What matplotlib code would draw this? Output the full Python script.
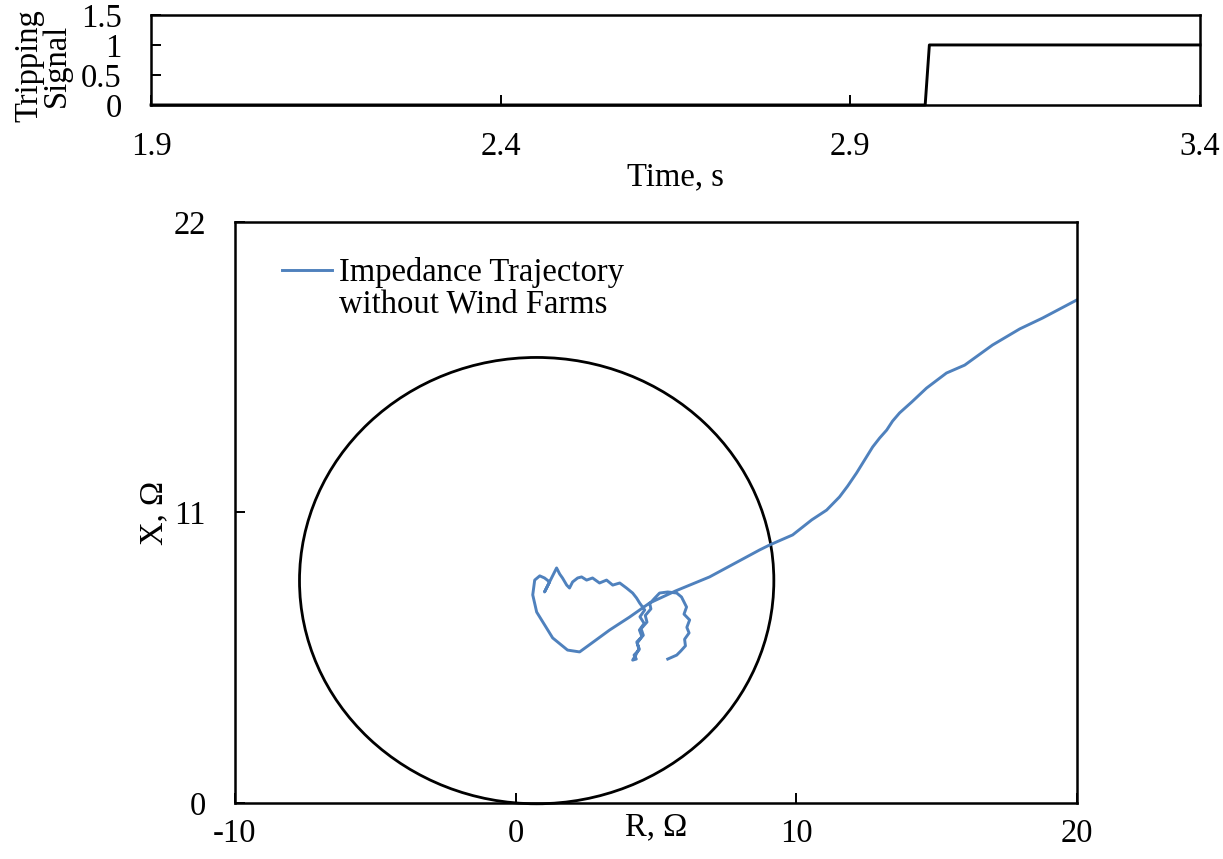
import matplotlib
matplotlib.use("Agg")
import matplotlib.pyplot as plt
from matplotlib.patches import Circle

plt.rcParams['font.family'] = ['Liberation Serif', 'DejaVu Serif']
plt.rcParams['font.size'] = 23.5

# Relay tripping signal
trip_time = [1.9, 3.007, 3.013, 3.4]
trip_signal = [0, 0, 1, 1]

# Mho characteristic (passes through origin)
mho_center_r = 0.75
mho_center_x = 8.42
mho_radius = 8.45

# Apparent impedance seen by the relay, ohms
traj_r = [20.0, 18.77, 17.96, 16.99, 16.0, 15.35, 14.64, 14.11, 13.68, 13.43,
          13.22, 12.97, 12.72, 12.15, 11.83, 11.54, 11.08, 10.55, 9.87, 9.05,
          8.69, 6.91, 5.70, 4.77, 4.06, 3.35, 2.81, 2.28, 1.85, 1.32,
          0.75, 0.61, 0.68, 0.86, 1.03, 1.21, 1.03, 1.28, 1.46, 1.57,
          1.67, 1.82, 1.92, 2.03, 2.21, 2.35, 2.53, 2.74, 2.99, 3.24,
          3.46, 3.71, 3.95, 4.17, 4.31, 4.42, 4.60, 4.43, 4.58, 4.41,
          4.50, 4.33, 4.40, 4.22, 4.30, 4.17, 4.28, 4.40, 4.32, 4.55,
          4.47, 4.68, 4.62, 4.82, 4.78, 4.95, 5.13, 5.42, 5.74, 5.91,
          6.09, 6.00, 6.20, 6.10, 6.18, 6.02, 6.05, 5.88, 5.74, 5.42]
traj_x = [19.05, 18.36, 17.95, 17.34, 16.58, 16.28, 15.71, 15.18, 14.77, 14.46,
          14.12, 13.82, 13.48, 12.50, 12.00, 11.59, 11.09, 10.72, 10.15, 9.77,
          9.58, 8.56, 8.03, 7.57, 7.04, 6.55, 6.13, 5.72, 5.79, 6.25,
          7.23, 7.88, 8.44, 8.60, 8.52, 8.37, 7.99, 8.52, 8.90, 8.67,
          8.52, 8.25, 8.14, 8.37, 8.52, 8.56, 8.44, 8.52, 8.33, 8.44,
          8.25, 8.33, 8.14, 7.95, 7.76, 7.57, 7.31, 7.05, 6.80, 6.55,
          6.30, 6.05, 5.80, 5.60, 5.45, 5.41, 5.60, 5.85, 6.10, 6.35,
          6.60, 6.85, 7.10, 7.35, 7.55, 7.75, 7.95, 7.99, 7.95, 7.80,
          7.42, 7.15, 6.93, 6.65, 6.44, 6.20, 5.95, 5.75, 5.60, 5.45]

fig = plt.figure(figsize=(12.23, 8.59), dpi=100)

# ── Tripping signal ──────────────────────────────────────────────────
ax1 = fig.add_axes([0.1235, 0.8778, 0.8577, 0.1048])
ax1.plot(trip_time, trip_signal, color='black', linewidth=2.1, clip_on=False)
ax1.set_xlim(1.9, 3.4)
ax1.set_ylim(0, 1.5)
ax1.set_xticks([1.9, 2.4, 2.9, 3.4])
ax1.set_xticklabels(['1.9', '2.4', '2.9', '3.4'])
ax1.set_yticks([0, 0.5, 1, 1.5])
ax1.set_yticklabels(['0', '0.5', '1', '1.5'])
ax1.tick_params(axis='x', direction='in', length=7, width=1.4, pad=19)
ax1.tick_params(axis='y', direction='in', length=7, width=1.4, pad=21)
ax1.set_xlabel('Time, s', labelpad=0)
ax1.set_ylabel('Tripping\nSignal', linespacing=0.9)
ax1.yaxis.set_label_coords(-0.075, 0.44)
for sp in ax1.spines.values():
    sp.set_linewidth(1.8)

# ── Impedance plane ──────────────────────────────────────────────────
ax2 = fig.add_axes([0.1921, 0.0652, 0.6885, 0.6764])
ax2.add_patch(Circle((mho_center_r, mho_center_x), mho_radius, fill=False,
                     edgecolor='black', linewidth=2.0, clip_on=False))
ax2.plot(traj_r, traj_x, color='#4F81BD', linewidth=2.1,
         label='Impedance Trajectory')
ax2.set_xlim(-10, 20)
ax2.set_ylim(0, 22)
ax2.set_xticks([-10, 0, 10, 20])
ax2.set_xticklabels(['-10', '0', '10', '20'])
ax2.set_yticks([0, 11, 22])
ax2.set_yticklabels(['0', '11', '22'])
ax2.tick_params(axis='x', direction='in', length=7, width=1.4, pad=11)
ax2.tick_params(axis='y', direction='in', length=7, width=1.4, pad=21)
ax2.set_xlabel('R, Ω')
ax2.xaxis.set_label_coords(0.5, -0.015)
ax2.set_ylabel('X, Ω')
ax2.yaxis.set_label_coords(-0.078, 0.5)
for sp in ax2.spines.values():
    sp.set_linewidth(1.8)
leg = ax2.legend(loc='upper left', bbox_to_anchor=(0.04, 0.962), frameon=False,
                 handlelength=1.55, handletextpad=0.2, borderaxespad=0)
# second line of the legend entry, drawn after the legend so its text is placed
ax2.annotate('without Wind Farms', xy=(0, 0), xycoords=leg.get_texts()[0],
             xytext=(0, -1), textcoords='offset points', ha='left', va='top',
             zorder=6)

fig.savefig('out.png', dpi=100)
